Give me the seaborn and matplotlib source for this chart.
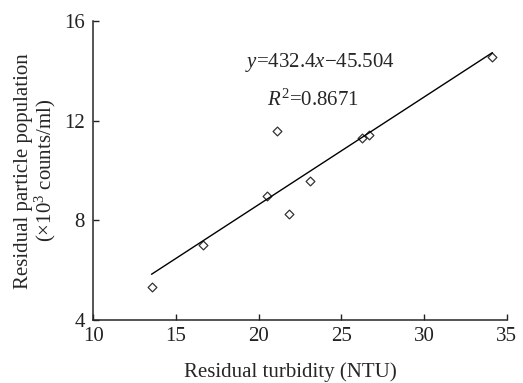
import numpy as np
import seaborn as sns
import matplotlib.pyplot as plt

# Data
turbidity = [13.53, 16.67, 20.48, 21.10, 21.85, 23.11, 26.24, 26.68, 34.13]
particles = [5.32, 7.01, 8.98, 11.57, 8.24, 9.59, 11.29, 11.42, 14.56]
x_ticks = [10, 15, 20, 25, 30, 35]
y_ticks = [4, 8, 12, 16]

sns.set_style('ticks')
plt.rcParams['font.family'] = ['Liberation Serif', 'DejaVu Serif']
plt.rcParams['mathtext.fontset'] = 'custom'
plt.rcParams['mathtext.rm'] = 'Liberation Serif'
plt.rcParams['mathtext.it'] = 'Liberation Serif:italic'

fs = 15
fig = plt.figure(figsize=(5.23, 3.83), dpi=100)
ax = fig.add_axes([0.178, 0.164, 0.791, 0.781])

sns.regplot(x=turbidity, y=particles, ax=ax, ci=None, truncate=True,
            marker='D', scatter_kws=dict(s=20, facecolors='white', edgecolors='black', linewidths=0.9),
            line_kws=dict(color='black', lw=1.0))

ax.set_xlim(10, 35)
ax.set_ylim(4, 16)
ax.set_xticks(x_ticks)
ax.set_yticks(y_ticks)
ax.tick_params(direction='in', length=4, width=1, labelsize=fs, colors='#222222')
ax.tick_params(axis='y', pad=6)
ax.tick_params(axis='x', pad=5)
for s in ['top', 'right']:
    ax.spines[s].set_visible(False)
for s in ['left', 'bottom']:
    ax.spines[s].set_linewidth(1.1)

ax.set_xlabel('Residual turbidity (NTU)', fontsize=fs)
ax.xaxis.set_label_coords(0.476, -0.14)
ax.set_ylabel('Residual particle population\n(×10$^3$ counts/ml)', fontsize=fs, linespacing=1.0, labelpad=4)

ax.text(0.548, 0.863, '$y$=432.4$x$−45.504', transform=ax.transAxes, ha='center', va='center', fontsize=fs)
ax.text(0.531, 0.736, '$R^2$=0.8671', transform=ax.transAxes, ha='center', va='center', fontsize=fs)

plt.savefig('out.png', dpi=100)
